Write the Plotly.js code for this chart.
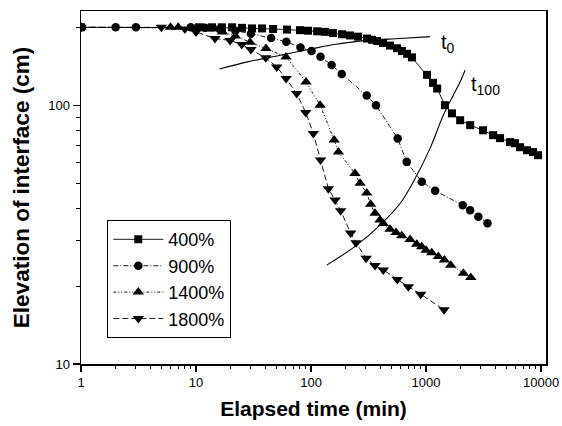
<!DOCTYPE html>
<html>
<head>
<meta charset="utf-8">
<script src="https://cdn.plot.ly/plotly-3.0.1.min.js"></script>
<style>html,body{margin:0;padding:0;background:#fff;}#chart{width:562px;height:426px;}</style>
</head>
<body>
<div id="chart"></div>
<script>
// ---- data ----
const seriesNames = ["400%", "900%", "1400%", "1800%"];

const t400 = [1, 10.8, 13.8, 16.8, 20.6, 25.1, 30.7, 37.5, 46.8, 61.8, 80.2, 94.2, 113, 132, 155, 186, 218, 256, 307, 339, 375, 423, 486, 560, 618, 684, 755, 1020, 1150, 1250, 1460, 1680, 1980, 2420, 3130, 3830, 4400, 5380, 5940, 6570, 7550, 8510, 9420];
const h400 = [200, 200, 200, 200, 200, 199, 198, 198, 197, 196, 195, 194, 193, 192, 190, 188, 186, 184, 181, 179, 177, 174, 170, 166, 162, 158, 153, 131, 122, 116, 100, 93, 87.5, 83.7, 80, 76.6, 74.6, 72, 71.3, 68.8, 67, 65.9, 64.1];

const t900 = [1, 2, 3, 9, 12, 16, 22, 30, 45, 61, 81, 101, 121, 151, 185, 305, 367, 567, 679, 918, 1200, 2085, 2415, 2850, 3420];
const h900 = [200, 200, 200, 200, 199, 197, 194, 189, 182, 176, 167, 162, 154, 143, 132, 109, 100, 74.3, 60.4, 50.6, 46.7, 41.1, 39.3, 37.1, 35];

const t1400 = [1, 6, 7, 10, 13, 17, 22, 29.5, 40.6, 60.6, 90.5, 120, 159, 173, 241, 267, 305, 330, 360, 398, 425, 486, 548, 615, 726, 830, 918, 1000, 1120, 1280, 1443, 1640, 2110, 2450];
const h1400 = [200, 200, 200, 199, 197, 192, 185, 175, 165.6, 153.7, 123, 100, 73.3, 66, 54.5, 49.9, 45.8, 41.4, 38.2, 36, 34.9, 33.2, 32.2, 31.3, 30.3, 29, 28.4, 27.5, 26.9, 26, 25.2, 24.1, 22.4, 21.6];

const t1800 = [1, 5, 8, 10, 14.6, 19.8, 25, 30, 40.4, 50.3, 60.7, 75.1, 90, 104.7, 121, 141.5, 162, 181, 221, 246, 301, 360, 425, 563, 702, 899, 1435];
const h1800 = [200, 200, 197, 192, 181, 178, 171.5, 164, 152.4, 140.6, 126.8, 110.9, 93.7, 77.8, 61.4, 47.6, 43, 39.1, 32.1, 29.4, 25.6, 24, 23.1, 21.2, 19.9, 18.6, 16.2];

// boundary curves t0 and t100
const tT0 = [16, 28, 54, 104, 160, 305, 594, 1080];
const hT0 = [138, 147, 156, 165.5, 171.5, 178, 181, 184];
const tT100 = [137, 250, 398, 594, 776, 1083, 1413, 1727, 1977, 2184];
const hT100 = [24.1, 28.8, 34.4, 41.7, 50.6, 68.1, 91.5, 109.3, 123, 136.5];

// curve labels
const curveLabels = ["t<sub>0</sub>", "t<sub>100</sub>"];
const labelT = [1297, 2366];
const labelH = [173, 119];

// axis ticks
const xTickVals = [1, 10, 100, 1000, 10000];
const xTickText = ["1", "10", "100", "1000", "10000"];
const yTickVals = [10, 100];
const yTickText = ["10", "100"];

// ---- build ----
const FONT = "Liberation Sans, Arial, Helvetica, sans-serif";
function minorLog(lo, hi) {
  const out = [];
  for (let d = lo; d < hi; d++) {
    for (let k = 2; k <= 9; k++) out.push(k * Math.pow(10, d));
  }
  return out;
}

const styles = [
  {symbol: "square", size: 8, dash: "solid"},
  {symbol: "circle", size: 8.5, dash: "5px,2px,1px,2px"},
  {symbol: "triangle-up", size: 10, dash: "3px,2px,1px,2px,1px,2px"},
  {symbol: "triangle-down", size: 10, dash: "6px,3px"}
];
const xs = [t400, t900, t1400, t1800];
const ys = [h400, h900, h1400, h1800];

const traces = seriesNames.map((n, i) => ({
  type: "scatter",
  mode: "lines+markers",
  name: n,
  x: xs[i],
  y: ys[i],
  line: {color: "#000", width: 0.9, dash: styles[i].dash},
  marker: {symbol: styles[i].symbol, size: styles[i].size, color: "#000"}
}));

traces.push({
  type: "scatter", mode: "lines", x: tT0, y: hT0, showlegend: false,
  line: {color: "#000", width: 1.1, shape: "spline"}, hoverinfo: "skip"
});
traces.push({
  type: "scatter", mode: "lines", x: tT100, y: hT100, showlegend: false,
  line: {color: "#000", width: 1.1, shape: "spline"}, hoverinfo: "skip"
});

const annotations = curveLabels.map((txt, i) => ({
  x: Math.log10(labelT[i]), y: Math.log10(labelH[i]),
  xref: "x", yref: "y", text: txt, showarrow: false,
  xanchor: "left", yanchor: "middle",
  font: {family: FONT, size: 20, color: "#000"}
}));

const layout = {
  width: 562, height: 426,
  margin: {l: 81, r: 16, t: 11, b: 62},
  paper_bgcolor: "#fff", plot_bgcolor: "#fff",
  font: {family: FONT, color: "#000"},
  showlegend: true,
  legend: {
    x: 0.0566, y: 0.4076, xanchor: "left", yanchor: "top",
    bgcolor: "#fff", bordercolor: "#000", borderwidth: 1,
    font: {family: FONT, size: 18, color: "#000"},
    tracegroupgap: 0, itemwidth: 50
  },
  xaxis: {
    type: "log", range: [0, 4.043],
    showgrid: false, zeroline: false,
    showline: true, linecolor: "#000", linewidth: 1.5, mirror: true,
    ticks: "outside", ticklen: 6, tickwidth: 1.2, tickcolor: "#000",
    tickmode: "array", tickvals: xTickVals, ticktext: xTickText,
    tickfont: {family: FONT, size: 13, color: "#000"},
    minor: {tickmode: "array", tickvals: minorLog(0, 4), ticks: "outside", ticklen: 3, tickwidth: 1, tickcolor: "#000", showgrid: false},
    title: {text: "<b>Elapsed time (min)</b>", font: {family: FONT, size: 21, color: "#000"}, standoff: 12}
  },
  yaxis: {
    type: "log", range: [1, 2.364],
    showgrid: false, zeroline: false,
    showline: true, linecolor: "#000", linewidth: 1.5, mirror: true,
    ticks: "outside", ticklen: 7, tickwidth: 1.2, tickcolor: "#000",
    tickmode: "array", tickvals: yTickVals, ticktext: yTickText,
    tickfont: {family: FONT, size: 13, color: "#000"},
    minor: {tickmode: "array", tickvals: minorLog(1, 3), ticks: "outside", ticklen: 4, tickwidth: 1, tickcolor: "#000", showgrid: false},
    title: {text: "<b>Elevation of interface (cm)</b>", font: {family: FONT, size: 22.5, color: "#000"}, standoff: 12}
  },
  annotations: annotations
};

Plotly.newPlot("chart", traces, layout, {staticPlot: true, displayModeBar: false});
</script>
</body>
</html>
